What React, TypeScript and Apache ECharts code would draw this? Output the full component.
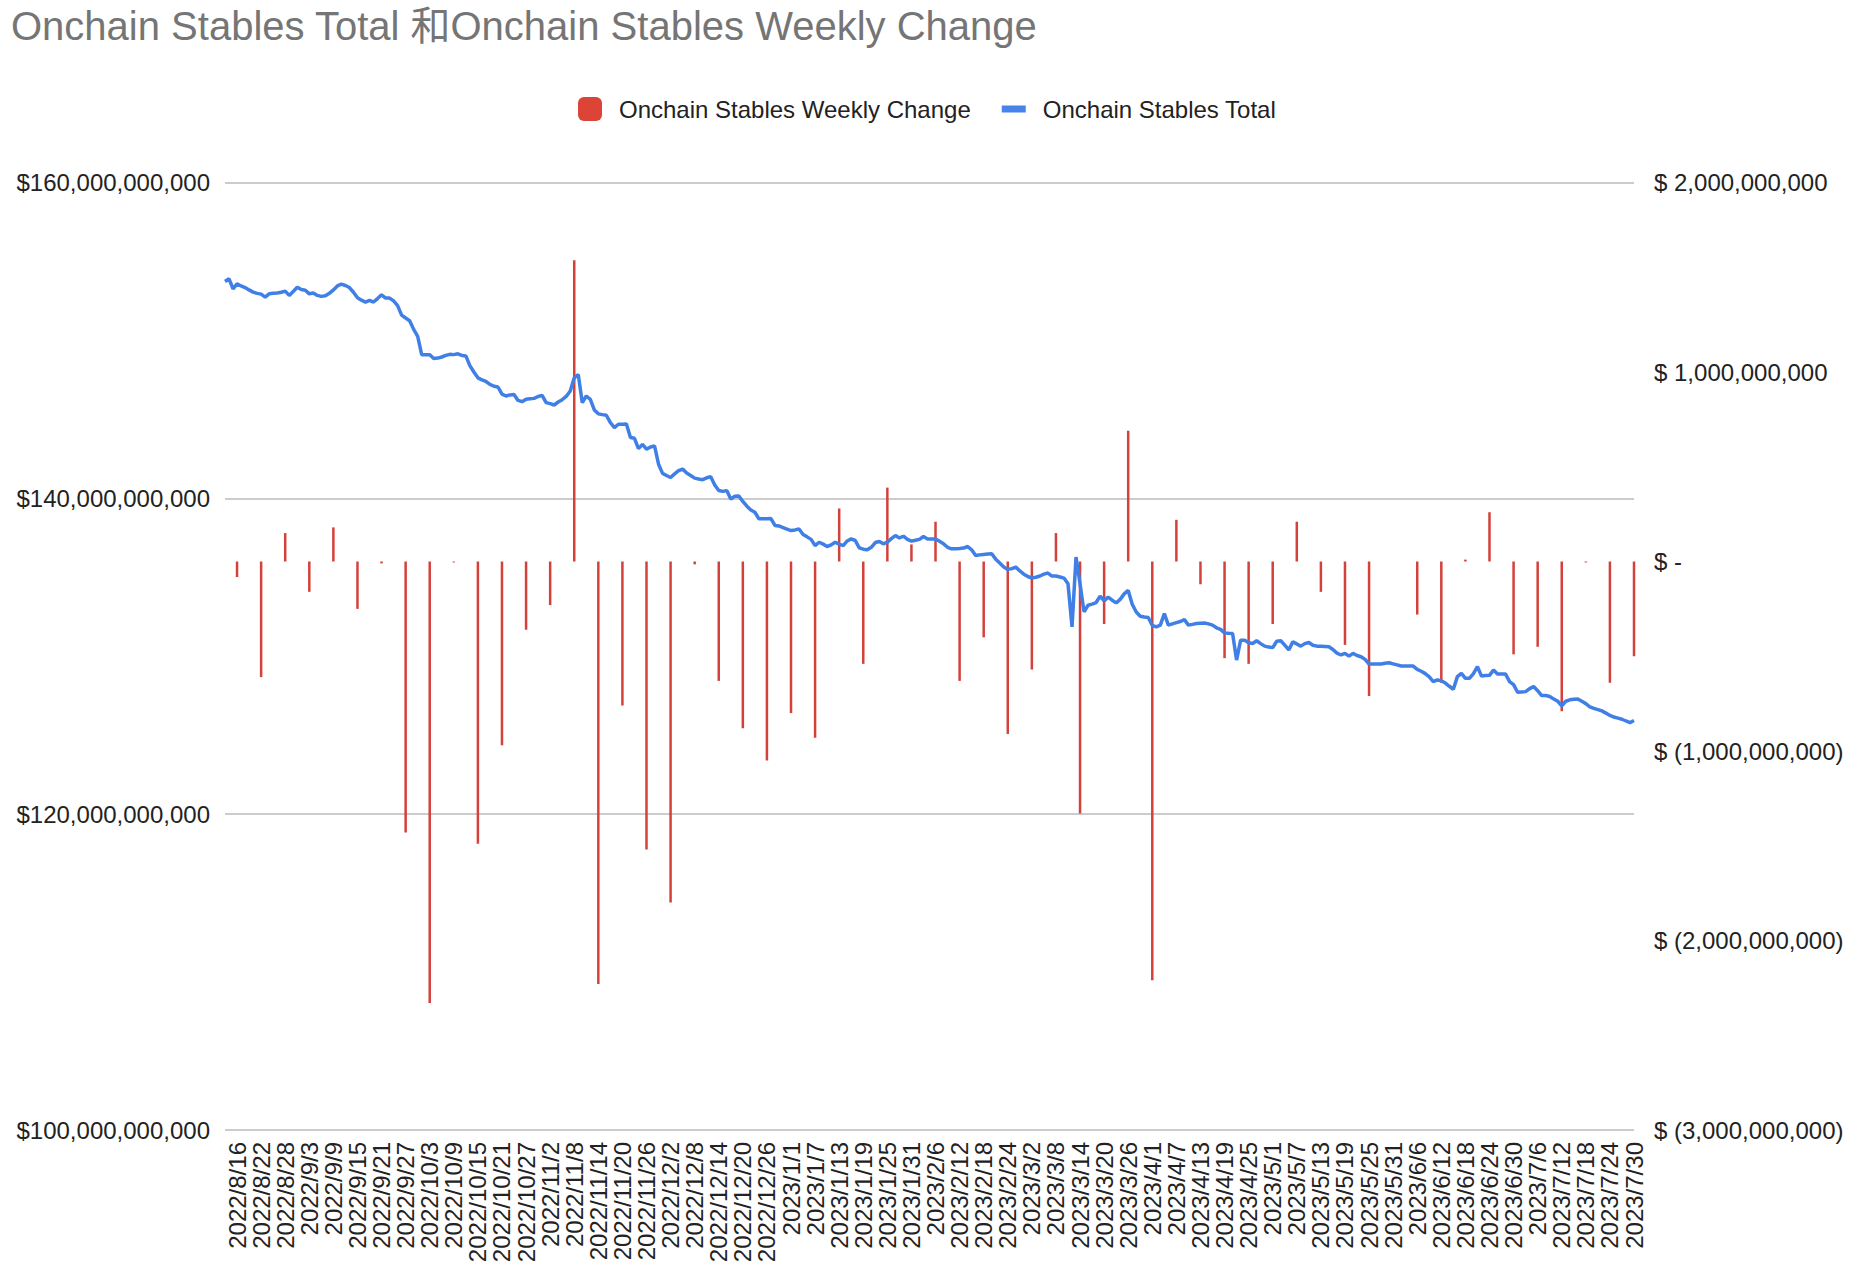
import React, { useEffect, useRef } from "react";
import * as echarts from "echarts";

// Daily categories start on this date; labels / weekly bars every 6th day from index 3
const startDate = [2022, 8, 13];
const dayCount = 352;
const labelOffset = 3;
const labelStep = 6;

// Onchain Stables Total, in billions USD (daily)
const totalB = [
  153.73, 153.9, 153.27, 153.58, 153.45, 153.35, 153.2, 153.06, 152.98, 152.93,
  152.74, 152.95, 152.98, 153.0, 153.05, 153.12, 152.85, 153.1, 153.37, 153.22,
  153.18, 152.95, 153.0, 152.85, 152.79, 152.83, 152.98, 153.2, 153.45, 153.56,
  153.48, 153.35, 153.05, 152.7, 152.55, 152.43, 152.54, 152.43, 152.65, 152.89,
  152.68, 152.68, 152.5, 152.2, 151.6, 151.42, 151.25, 150.7, 150.26, 149.1,
  149.1, 149.1, 148.85, 148.88, 148.95, 149.05, 149.12, 149.1, 149.15, 149.05,
  149.02, 148.4, 148.0, 147.63, 147.5, 147.4, 147.22, 147.1, 147.05, 146.6,
  146.48, 146.55, 146.58, 146.2, 146.12, 146.27, 146.3, 146.33, 146.45, 146.52,
  146.06, 146.0, 145.91, 146.1, 146.25, 146.45, 146.8, 147.63, 147.84, 146.06,
  146.48, 146.27, 145.6, 145.35, 145.3, 145.26, 144.8, 144.48, 144.69, 144.69,
  144.7, 143.85, 143.8, 143.15, 143.42, 143.11, 143.25, 143.32, 142.16, 141.58,
  141.45, 141.32, 141.55, 141.75, 141.85, 141.6, 141.45, 141.28, 141.22, 141.18,
  141.3, 141.37, 140.85, 140.5, 140.44, 140.49, 139.96, 140.13, 140.15, 139.8,
  139.5, 139.26, 139.12, 138.7, 138.7, 138.7, 138.72, 138.28, 138.25, 138.15,
  138.05, 137.96, 138.0, 138.06, 137.71, 137.56, 137.4, 137.01, 137.22, 137.1,
  136.95, 137.05, 137.22, 137.1, 137.01, 137.3, 137.43, 137.33, 136.86, 136.78,
  136.74, 136.9, 137.2, 137.27, 137.12, 137.22, 137.45, 137.64, 137.49, 137.6,
  137.4, 137.29, 137.35, 137.4, 137.58, 137.43, 137.43, 137.43, 137.28, 137.12,
  136.9, 136.8, 136.8, 136.82, 136.85, 136.95, 136.74, 136.38, 136.42, 136.45,
  136.47, 136.49, 136.15, 135.9, 135.65, 135.5, 135.55, 135.65, 135.4, 135.2,
  135.05, 134.95, 135.0, 135.08, 135.2, 135.27, 135.08, 135.08, 135.02, 134.95,
  134.59, 131.86, 136.28, 134.59, 132.81, 133.23, 133.3, 133.4, 133.8, 133.5,
  133.75, 133.55, 133.38, 133.6, 133.95, 134.17, 133.29, 132.8, 132.53, 132.48,
  132.45, 131.95, 131.86, 131.97, 132.7, 131.97, 132.05, 132.13, 132.2, 132.32,
  131.97, 132.02, 132.07, 132.09, 132.11, 132.05, 131.97, 131.8, 131.7, 131.48,
  131.45, 131.44, 129.76, 131.02, 131.02, 130.85, 130.81, 130.98, 130.8, 130.64,
  130.58, 130.55, 130.95, 130.98, 130.7, 130.4, 130.91, 130.78, 130.64, 130.8,
  130.87, 130.7, 130.64, 130.64, 130.62, 130.6, 130.43, 130.2, 130.08, 130.18,
  130.01, 130.18, 130.05, 129.97, 129.8, 129.51, 129.51, 129.51, 129.51, 129.56,
  129.59, 129.52, 129.45, 129.38, 129.38, 129.38, 129.38, 129.17, 129.05, 128.9,
  128.7, 128.39, 128.5, 128.45, 128.3, 128.1, 127.91, 128.71, 128.92, 128.6,
  128.6, 128.9, 129.34, 128.75, 128.78, 128.79, 129.13, 128.88, 128.88, 128.88,
  128.39, 128.2, 127.72, 127.74, 127.76, 127.95, 128.08, 127.82, 127.51, 127.51,
  127.45, 127.3, 127.15, 126.86, 127.15, 127.24, 127.28, 127.3, 127.15, 127.0,
  126.8, 126.7, 126.62, 126.54, 126.4, 126.25, 126.15, 126.08, 126.01, 125.9,
  125.8, 125.93,
];

// Onchain Stables Weekly Change, in billions USD (one per labelled date)
const weeklyChangeB = [
  -0.082, -0.61, 0.15, -0.16, 0.18, -0.25, -0.01, -1.43, -2.33, -0.005,
  -1.49, -0.97, -0.36, -0.23, 1.59, -2.23, -0.76, -1.52, -1.8, -0.015,
  -0.63, -0.88, -1.05, -0.8, -0.93, 0.28, -0.54, 0.39, 0.09, 0.21,
  -0.63, -0.4, -0.91, -0.57, 0.15, -1.33, -0.33, 0.69, -2.21, 0.22,
  -0.12, -0.51, -0.54, -0.33, 0.21, -0.16, -0.44, -0.71, 0, -0.28,
  -0.64, 0.01, 0.26, -0.49, -0.45, -0.79, -0.005, -0.64, -0.5,
];

const leftTicks = { min: 100e9, max: 160e9, interval: 20e9 };
const rightTicks = { min: -3e9, max: 2e9, interval: 1e9 };

const FONT = 'Arial, "Liberation Sans", "Noto Sans CJK SC", sans-serif';
const LINE_ICON =
  "path://M0,0h0.01v0.01h-0.01z M0,8.5h24v7h-24z M23.99,23.99h0.01v0.01h-0.01z";

function buildDates(): string[] {
  const out: string[] = [];
  const d = new Date(Date.UTC(startDate[0], startDate[1] - 1, startDate[2]));
  for (let i = 0; i < dayCount; i++) {
    out.push(`${d.getUTCFullYear()}/${d.getUTCMonth() + 1}/${d.getUTCDate()}`);
    d.setUTCDate(d.getUTCDate() + 1);
  }
  return out;
}

function fmt(n: number): string {
  return Math.round(n).toString().replace(/\B(?=(\d{3})+(?!\d))/g, ",");
}

export default function App() {
  const ref = useRef<HTMLDivElement>(null);
  useEffect(() => {
    if (!ref.current) return;
    const chart = echarts.init(ref.current, undefined, { renderer: "svg" });
    const dates = buildDates();
    const barData: (number | null)[] = dates.map(() => null);
    weeklyChangeB.forEach((v, k) => {
      barData[labelOffset + k * labelStep] = v * 1e9;
    });
    const lineData = totalB.map((v) => v * 1e9);

    chart.setOption({
      animation: false,
      backgroundColor: "#ffffff",
      textStyle: { fontFamily: FONT },
      title: {
        text: "Onchain Stables Total 和Onchain Stables Weekly Change",
        left: 11,
        top: 6,
        padding: 0,
        textStyle: { fontSize: 40, fontWeight: "normal", color: "#757575", fontFamily: FONT },
      },
      legend: {
        top: 97,
        left: 578,
        padding: 0,
        itemWidth: 24,
        itemHeight: 24,
        itemGap: 31,
        textStyle: { fontSize: 24, color: "#222222", fontFamily: FONT, padding: [0, 0, 0, 12] },
        data: [
          { name: "Onchain Stables Weekly Change", icon: "roundRect", itemStyle: { color: "#dc4437" } },
          { name: "Onchain Stables Total", icon: LINE_ICON },
        ],
      },
      grid: { left: 225, right: 238, top: 182.5, bottom: 144, containLabel: false },
      xAxis: {
        type: "category",
        data: dates,
        boundaryGap: false,
        axisLine: { show: false },
        axisTick: { show: false },
        axisLabel: {
          rotate: 90,
          fontSize: 24,
          color: "#222222",
          fontFamily: FONT,
          margin: 12,
          hideOverlap: false,
          interval: (i: number) => i >= labelOffset && (i - labelOffset) % labelStep === 0,
        },
        splitLine: { show: false },
      },
      yAxis: [
        {
          type: "value",
          min: leftTicks.min,
          max: leftTicks.max,
          interval: leftTicks.interval,
          axisLine: { show: false },
          axisTick: { show: false },
          splitLine: { lineStyle: { color: "#cccccc", width: 2 } },
          axisLabel: {
            fontSize: 24,
            color: "#222222",
            fontFamily: FONT,
            margin: 15,
            formatter: (v: number) => "$" + fmt(v),
          },
        },
        {
          type: "value",
          min: rightTicks.min,
          max: rightTicks.max,
          interval: rightTicks.interval,
          axisLine: { show: false },
          axisTick: { show: false },
          splitLine: { show: false },
          axisLabel: {
            fontSize: 24,
            color: "#222222",
            fontFamily: FONT,
            margin: 20,
            formatter: (v: number) =>
              v === 0 ? "$ -" : v < 0 ? "$ (" + fmt(-v) + ")" : "$ " + fmt(v),
          },
        },
      ],
      series: [
        {
          name: "Onchain Stables Weekly Change",
          type: "bar",
          yAxisIndex: 1,
          data: barData,
          barWidth: 2.5,
          itemStyle: { color: "#d4413a" },
          z: 2,
        },
        {
          name: "Onchain Stables Total",
          type: "line",
          yAxisIndex: 0,
          data: lineData,
          showSymbol: false,
          symbol: "none",
          lineStyle: { color: "#3f7fe6", width: 3.5 },
          itemStyle: { color: "#4684ea" },
          z: 3,
        },
      ],
    });
    return () => chart.dispose();
  }, []);
  return (
    <div
      ref={ref}
      style={{ position: "fixed", left: 0, top: 0, width: 1872, height: 1274 }}
    />
  );
}
